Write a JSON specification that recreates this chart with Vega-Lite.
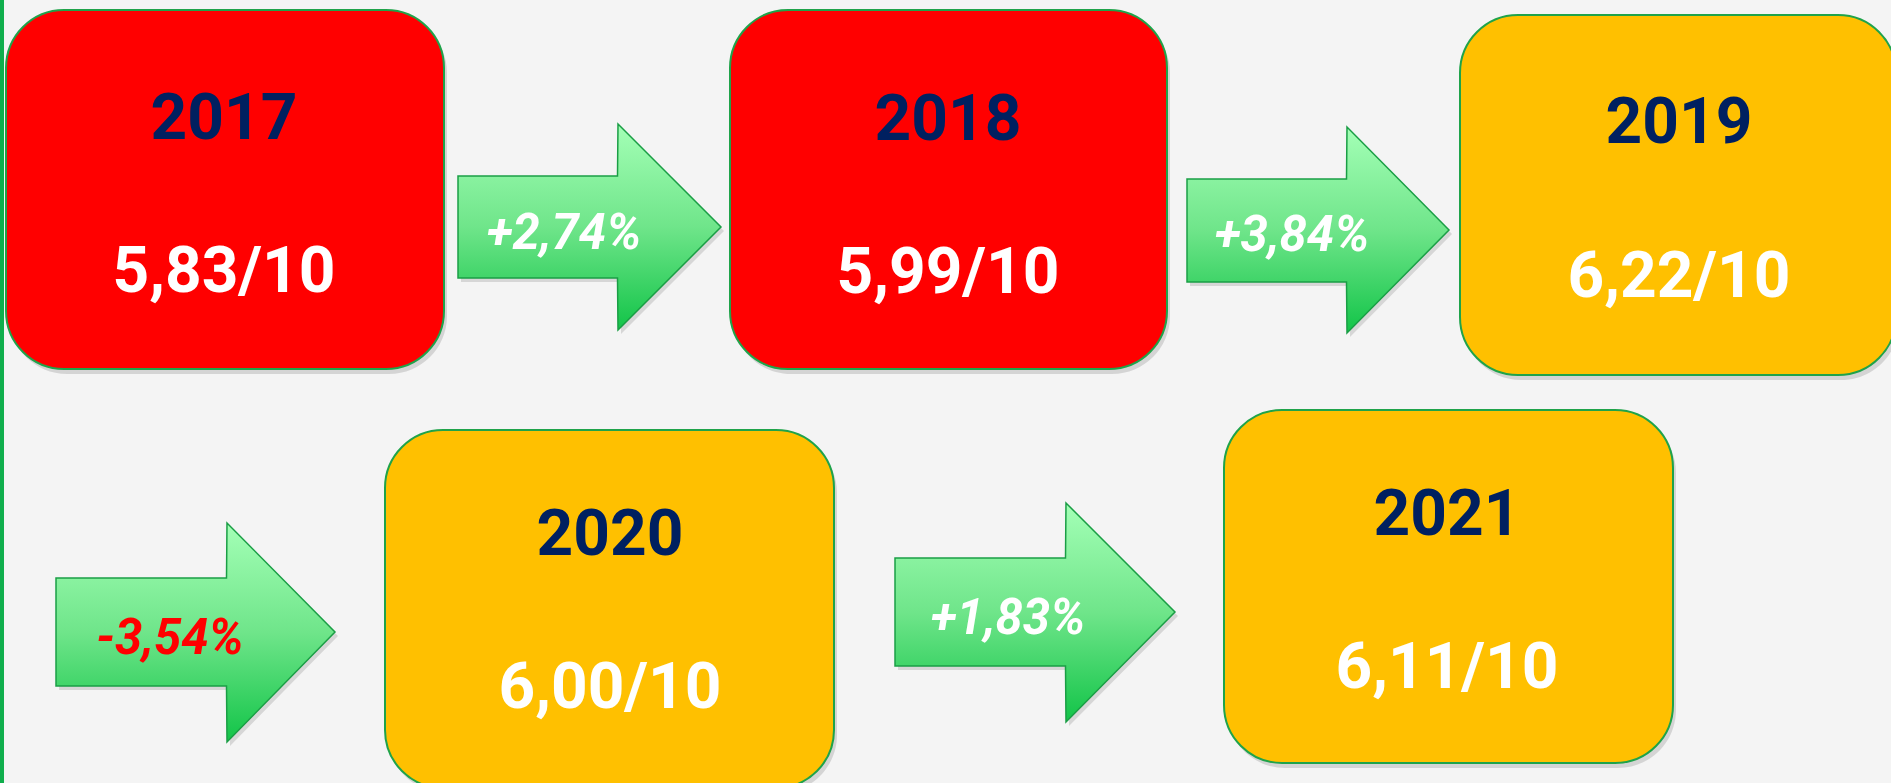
{
  "$schema": "https://vega.github.io/schema/vega-lite/v6.json",
  "width": 1891,
  "height": 783,
  "autosize": "none",
  "padding": 0,
  "background": "#f4f4f4",
  "config": {"view": {"stroke": null}},
  "resolve": {"scale": {"fill": "independent", "color": "independent"}},
  "datasets": {
    "edge": [{"left": 0, "right": 4, "top": 0, "bottom": 783}],
    "boxes": [
      {"year": "2017", "score": "5,83/10", "level": "rouge", "left": 6, "right": 444, "top": 10, "bottom": 369, "cx": 224, "yearBase": 139, "scoreBase": 292},
      {"year": "2018", "score": "5,99/10", "level": "rouge", "left": 730, "right": 1167, "top": 10, "bottom": 369, "cx": 948, "yearBase": 140, "scoreBase": 293},
      {"year": "2019", "score": "6,22/10", "level": "orange", "left": 1460, "right": 1896, "top": 15, "bottom": 375, "cx": 1679, "yearBase": 143, "scoreBase": 297},
      {"year": "2020", "score": "6,00/10", "level": "orange", "left": 385, "right": 834, "top": 430, "bottom": 788, "cx": 610, "yearBase": 555, "scoreBase": 708},
      {"year": "2021", "score": "6,11/10", "level": "orange", "left": 1224, "right": 1673, "top": 410, "bottom": 763, "cx": 1447, "yearBase": 535, "scoreBase": 688}
    ],
    "arrows": [
      {"arrow": "A", "x": 458, "top": 176, "bottom": 278},
      {"arrow": "A", "x": 617.5, "top": 176, "bottom": 278},
      {"arrow": "A", "x": 618, "top": 124, "bottom": 330},
      {"arrow": "A", "x": 721, "top": 227, "bottom": 227},
      {"arrow": "B", "x": 1187, "top": 179, "bottom": 282},
      {"arrow": "B", "x": 1346.5, "top": 179, "bottom": 282},
      {"arrow": "B", "x": 1347, "top": 127, "bottom": 333},
      {"arrow": "B", "x": 1449, "top": 230, "bottom": 230},
      {"arrow": "C", "x": 56, "top": 578, "bottom": 686},
      {"arrow": "C", "x": 226.5, "top": 578, "bottom": 686},
      {"arrow": "C", "x": 227, "top": 523, "bottom": 742},
      {"arrow": "C", "x": 335, "top": 632, "bottom": 632},
      {"arrow": "D", "x": 895, "top": 558, "bottom": 666},
      {"arrow": "D", "x": 1065.5, "top": 558, "bottom": 666},
      {"arrow": "D", "x": 1066, "top": 503, "bottom": 722},
      {"arrow": "D", "x": 1175, "top": 612, "bottom": 612}
    ],
    "changes": [
      {"change": "+2,74%", "sens": "hausse", "cx": 564, "base": 249},
      {"change": "+3,84%", "sens": "hausse", "cx": 1292, "base": 251},
      {"change": "-3,54%", "sens": "baisse", "cx": 170, "base": 654},
      {"change": "+1,83%", "sens": "hausse", "cx": 1008, "base": 634}
    ]
  },
  "layer": [
    {
      "data": {"name": "edge"},
      "mark": {"type": "rect", "fill": "#0fae4c"},
      "encoding": {
        "x": {"field": "left", "type": "quantitative", "scale": {"domain": [0, 1891], "nice": false, "zero": false}, "axis": null},
        "x2": {"field": "right"},
        "y": {"field": "top", "type": "quantitative", "scale": {"domain": [0, 783], "nice": false, "zero": false, "reverse": true}, "axis": null},
        "y2": {"field": "bottom"}
      }
    },
    {
      "data": {"name": "boxes"},
      "mark": {"type": "rect", "fill": "#000000", "opacity": 0.13, "cornerRadius": 58, "xOffset": 3, "x2Offset": 3, "yOffset": 5, "y2Offset": 5},
      "encoding": {
        "x": {"field": "left", "type": "quantitative", "scale": {"domain": [0, 1891], "nice": false, "zero": false}, "axis": null},
        "x2": {"field": "right"},
        "y": {"field": "top", "type": "quantitative", "scale": {"domain": [0, 783], "nice": false, "zero": false, "reverse": true}, "axis": null},
        "y2": {"field": "bottom"}
      }
    },
    {
      "data": {"name": "boxes"},
      "mark": {"type": "rect", "cornerRadius": 58, "stroke": "#1fa34a", "strokeWidth": 2},
      "encoding": {
        "x": {"field": "left", "type": "quantitative", "scale": {"domain": [0, 1891], "nice": false, "zero": false}, "axis": null},
        "x2": {"field": "right"},
        "y": {"field": "top", "type": "quantitative", "scale": {"domain": [0, 783], "nice": false, "zero": false, "reverse": true}, "axis": null},
        "y2": {"field": "bottom"},
        "fill": {"field": "level", "type": "nominal", "scale": {"domain": ["rouge", "orange"], "range": ["#ff0000", "#ffc000"]}, "legend": null}
      }
    },
    {
      "data": {"name": "arrows"},
      "mark": {"type": "area", "fill": "#000000", "opacity": 0.12, "xOffset": 3, "yOffset": 4, "y2Offset": 4},
      "encoding": {
        "x": {"field": "x", "type": "quantitative", "scale": {"domain": [0, 1891], "nice": false, "zero": false}, "axis": null},
        "y": {"field": "top", "type": "quantitative", "stack": null, "scale": {"domain": [0, 783], "nice": false, "zero": false, "reverse": true}, "axis": null},
        "y2": {"field": "bottom"},
        "detail": {"field": "arrow", "type": "nominal"}
      }
    },
    {
      "data": {"name": "arrows"},
      "mark": {
        "type": "area",
        "stroke": "#1a9e45",
        "strokeWidth": 1.5,
        "fill": {
          "gradient": "linear", "x1": 0, "y1": 0, "x2": 0, "y2": 1,
          "stops": [
            {"offset": 0, "color": "#a4ffb6"},
            {"offset": 0.5, "color": "#6fe58a"},
            {"offset": 1, "color": "#12c448"}
          ]
        }
      },
      "encoding": {
        "x": {"field": "x", "type": "quantitative", "scale": {"domain": [0, 1891], "nice": false, "zero": false}, "axis": null},
        "y": {"field": "top", "type": "quantitative", "stack": null, "scale": {"domain": [0, 783], "nice": false, "zero": false, "reverse": true}, "axis": null},
        "y2": {"field": "bottom"},
        "detail": {"field": "arrow", "type": "nominal"}
      }
    },
    {
      "data": {"name": "boxes"},
      "mark": {"type": "text", "font": "Roboto", "fontWeight": "bold", "fontSize": 64, "fill": "#002060", "align": "center", "baseline": "alphabetic"},
      "encoding": {
        "x": {"field": "cx", "type": "quantitative", "scale": {"domain": [0, 1891], "nice": false, "zero": false}, "axis": null},
        "y": {"field": "yearBase", "type": "quantitative", "scale": {"domain": [0, 783], "nice": false, "zero": false, "reverse": true}, "axis": null},
        "text": {"field": "year", "type": "nominal"}
      }
    },
    {
      "data": {"name": "boxes"},
      "mark": {"type": "text", "font": "Roboto", "fontWeight": "bold", "fontSize": 64, "fill": "#ffffff", "align": "center", "baseline": "alphabetic"},
      "encoding": {
        "x": {"field": "cx", "type": "quantitative", "scale": {"domain": [0, 1891], "nice": false, "zero": false}, "axis": null},
        "y": {"field": "scoreBase", "type": "quantitative", "scale": {"domain": [0, 783], "nice": false, "zero": false, "reverse": true}, "axis": null},
        "text": {"field": "score", "type": "nominal"}
      }
    },
    {
      "data": {"name": "changes"},
      "mark": {"type": "text", "font": "Roboto", "fontWeight": "bold", "fontStyle": "italic", "fontSize": 49, "align": "center", "baseline": "alphabetic"},
      "encoding": {
        "x": {"field": "cx", "type": "quantitative", "scale": {"domain": [0, 1891], "nice": false, "zero": false}, "axis": null},
        "y": {"field": "base", "type": "quantitative", "scale": {"domain": [0, 783], "nice": false, "zero": false, "reverse": true}, "axis": null},
        "text": {"field": "change", "type": "nominal"},
        "color": {"field": "sens", "type": "nominal", "scale": {"domain": ["hausse", "baisse"], "range": ["#ffffff", "#ff0000"]}, "legend": null}
      }
    }
  ]
}
